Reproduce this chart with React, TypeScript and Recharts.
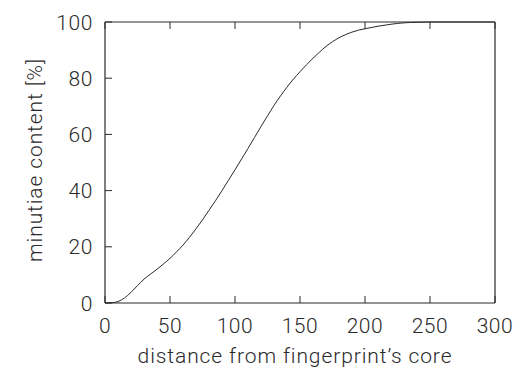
import React from "react";
import { LineChart, Line, XAxis, YAxis } from "recharts";

const distance = [0, 5, 10, 15, 20, 25, 30, 35, 40, 45, 50, 55, 60, 65, 70, 75, 80, 85, 90, 95, 100, 105, 110, 115, 120, 125, 130, 135, 140, 145, 150, 155, 160, 165, 170, 175, 180, 185, 190, 195, 200, 210, 220, 230, 240, 250, 260, 280, 300];
const content = [0, 0.1, 0.5, 1.8, 3.8, 6.2, 8.5, 10.3, 12.0, 13.9, 15.9, 18.2, 20.6, 23.4, 26.4, 29.6, 33.0, 36.4, 40.0, 43.7, 47.4, 51.2, 55, 58.9, 62.8, 66.6, 70.3, 73.7, 76.8, 79.7, 82.3, 84.8, 87.1, 89.3, 91.3, 93, 94.4, 95.5, 96.4, 97.1, 97.6, 98.5, 99.2, 99.7, 99.9, 100, 100, 100, 100];
const xTicks = [0, 50, 100, 150, 200, 250, 300];
const yTicks = [0, 20, 40, 60, 80, 100];
const xTitle = "distance from fingerprint\u2019s core";
const yTitle = "minutiae content [%]";

const data = distance.map((d, i) => ({ d, v: content[i] }));

const FONT = "Roboto, 'Liberation Sans', sans-serif";
const INK = "#2a2a2a";
const TICK = 7;

const BottomTick = (props: any) => {
  const { x, y, payload } = props;
  return (
    <g>
      <line x1={x} x2={x} y1={y} y2={y - TICK} stroke={INK} strokeWidth={1} />
      <text x={x} y={y + 30} textAnchor="middle" fontFamily={FONT} fontWeight={300} fontSize={21} letterSpacing={0.6} fill={INK}>
        {payload.value}
      </text>
    </g>
  );
};

const TopTick = (props: any) => {
  const { x, y } = props;
  return <line x1={x} x2={x} y1={y} y2={y + TICK} stroke={INK} strokeWidth={1} />;
};

const LeftTick = (props: any) => {
  const { x, y, payload } = props;
  return (
    <g>
      <line x1={x} x2={x + TICK} y1={y} y2={y} stroke={INK} strokeWidth={1} />
      <text x={x - 12} y={y + 7.5} textAnchor="end" fontFamily={FONT} fontWeight={300} fontSize={21} letterSpacing={0.6} fill={INK}>
        {payload.value}
      </text>
    </g>
  );
};

const RightTick = (props: any) => {
  const { x, y } = props;
  return <line x1={x} x2={x - TICK} y1={y} y2={y} stroke={INK} strokeWidth={1} />;
};

export default function App() {
  return (
    <div style={{ position: "absolute", left: 0, top: 0, width: 517, height: 369, background: "#fff" }}>
      <LineChart width={517} height={369} data={data} margin={{ top: 12, right: 12, bottom: 26, left: 45 }}>
        <XAxis
          xAxisId="b"
          dataKey="d"
          type="number"
          domain={[0, 300]}
          ticks={xTicks}
          interval={0}
          height={40}
          tickSize={0}
          tickMargin={0}
          tick={<BottomTick />}
          axisLine={{ stroke: INK, strokeWidth: 1.2 }}
          tickLine={false}
        />
        <XAxis
          xAxisId="t"
          orientation="top"
          dataKey="d"
          type="number"
          domain={[0, 300]}
          ticks={xTicks}
          interval={0}
          height={10}
          tickSize={0}
          tickMargin={0}
          tick={<TopTick />}
          axisLine={{ stroke: INK, strokeWidth: 1.2 }}
          tickLine={false}
        />
        <YAxis
          yAxisId="l"
          type="number"
          domain={[0, 100]}
          ticks={yTicks}
          interval={0}
          width={60}
          tickSize={0}
          tickMargin={0}
          tick={<LeftTick />}
          axisLine={{ stroke: INK, strokeWidth: 1.2 }}
          tickLine={false}
        />
        <YAxis
          yAxisId="r"
          orientation="right"
          type="number"
          domain={[0, 100]}
          ticks={yTicks}
          interval={0}
          width={10}
          tickSize={0}
          tickMargin={0}
          tick={<RightTick />}
          axisLine={{ stroke: INK, strokeWidth: 1.2 }}
          tickLine={false}
        />
        <Line
          xAxisId="b"
          yAxisId="l"
          dataKey="v"
          type="monotone"
          stroke={INK}
          strokeWidth={1}
          dot={false}
          isAnimationActive={false}
        />
      </LineChart>
      <svg width={517} height={369} style={{ position: "absolute", left: 0, top: 0, pointerEvents: "none" }}>
        <text x={295} y={363} textAnchor="middle" fontFamily={FONT} fontWeight={300} fontSize={21} letterSpacing={0.9} fill={INK}>
          {xTitle}
        </text>
        <text transform="translate(42,160) rotate(-90)" textAnchor="middle" fontFamily={FONT} fontWeight={300} fontSize={21} letterSpacing={0.9} fill={INK}>
          {yTitle}
        </text>
      </svg>
    </div>
  );
}
